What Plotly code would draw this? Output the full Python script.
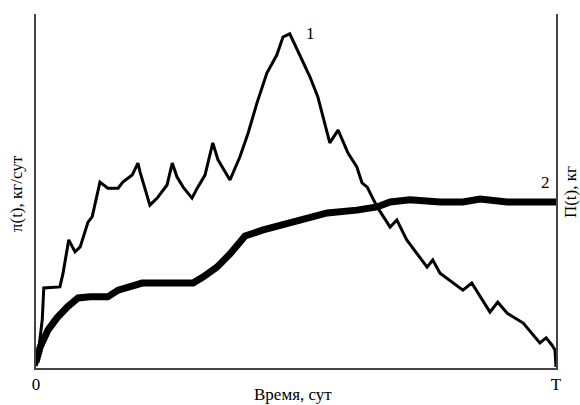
import plotly.graph_objects as go

# Curve 1: pi(t), kg/day (time as fraction of T)
t1 = [0.0, 0.002, 0.012, 0.015, 0.046, 0.052, 0.063, 0.075, 0.085, 0.100, 0.108, 0.123,
      0.138, 0.158, 0.167, 0.185, 0.196, 0.200, 0.219, 0.233, 0.252, 0.262, 0.271, 0.283,
      0.300, 0.310, 0.325, 0.340, 0.350, 0.373, 0.392, 0.408, 0.425, 0.444, 0.463, 0.475,
      0.488, 0.508, 0.527, 0.542, 0.565, 0.581, 0.600, 0.617, 0.627, 0.637, 0.656, 0.681,
      0.694, 0.713, 0.752, 0.763, 0.777, 0.821, 0.838, 0.873, 0.888, 0.906, 0.937, 0.969,
      0.981, 0.992, 0.998, 1.0]
pi_vals = [0.6, 1.4, 13.6, 22.6, 22.9, 26.8, 36.2, 32.8, 34.2, 41.2, 42.7, 52.5,
           50.8, 50.8, 52.5, 54.5, 57.9, 55.4, 46.0, 48.0, 51.7, 57.9, 54.0, 51.1,
           48.0, 50.8, 54.5, 63.6, 58.8, 53.1, 59.6, 66.4, 74.9, 83.3, 88.4, 93.5,
           94.4, 87.9, 82.2, 76.6, 63.6, 67.2, 60.7, 56.8, 52.3, 51.1, 45.5, 39.8,
           41.8, 36.2, 28.5, 30.5, 26.8, 22.0, 24.0, 15.8, 18.6, 15.5, 12.7, 7.1,
           8.5, 6.5, 5.1, 0.3]

# Curve 2: Pi(t), kg
t2 = [0.0, 0.008, 0.023, 0.040, 0.060, 0.081, 0.104, 0.138, 0.158, 0.175, 0.204, 0.242,
      0.302, 0.321, 0.348, 0.373, 0.402, 0.437, 0.488, 0.560, 0.617, 0.656, 0.681, 0.719,
      0.777, 0.821, 0.854, 0.906, 1.0]
Pi_vals = [1.7, 5.9, 10.7, 14.1, 17.2, 19.8, 20.1, 20.1, 22.0, 22.6, 24.0, 24.0,
           24.0, 25.7, 28.5, 32.2, 37.3, 39.0, 41.2, 43.8, 44.6, 45.5, 46.9, 47.5,
           46.9, 46.9, 47.7, 46.9, 46.9]

x_ticks = [0, 1]
x_tick_labels = ["0", "T"]

FONT = "Liberation Serif, Times New Roman, serif"
AX = "#444444"

fig = go.Figure()
fig.add_trace(go.Scatter(x=t1, y=pi_vals, mode="lines",
                         line=dict(color="black", width=3), showlegend=False))
fig.add_trace(go.Scatter(x=t2, y=Pi_vals, mode="lines", yaxis="y2",
                         line=dict(color="black", width=7), showlegend=False))

fig.update_layout(
    width=580, height=405,
    margin=dict(l=36, r=24, t=14, b=37, autoexpand=False),
    paper_bgcolor="white", plot_bgcolor="white",
    font=dict(family=FONT, size=17, color="black"),
    xaxis=dict(range=[0, 1], tickvals=x_ticks, ticktext=x_tick_labels,
               showgrid=False, zeroline=False, showline=True, linecolor=AX,
               linewidth=2, ticks="", tickfont=dict(size=17), automargin=False),
    yaxis=dict(range=[0, 100], showticklabels=False, showgrid=False, automargin=False,
               zeroline=False, showline=True, linecolor=AX, linewidth=2, ticks=""),
    yaxis2=dict(range=[0, 100], overlaying="y", side="right", showticklabels=False,
                showgrid=False, zeroline=False, showline=True, linecolor=AX,
                linewidth=2, ticks="", automargin=False),
    annotations=[
        dict(text="Время, сут", xref="paper", yref="paper", x=0.494, y=-0.074,
             showarrow=False, font=dict(size=17), yanchor="middle"),
        dict(text="π(t), кг/сут", xref="paper", yref="paper", x=-0.0385, y=0.494,
             textangle=-90, showarrow=False, font=dict(size=17),
             xanchor="center", yanchor="middle"),
        dict(text="Π(t), кг", xref="paper", yref="paper", x=1.027, y=0.497,
             textangle=-90, showarrow=False, font=dict(size=17),
             xanchor="center", yanchor="middle"),
        dict(text="1", x=0.527, y=94.6, xref="x", yref="y", showarrow=False,
             font=dict(size=17)),
        dict(text="2", x=0.979, y=52.5, xref="x", yref="y", showarrow=False,
             font=dict(size=17)),
    ],
)

fig.write_html("out.html",
               config={"displayModeBar": False},
               post_script="document.body.style.margin='0';"
                           "document.body.style.overflow='hidden';")
